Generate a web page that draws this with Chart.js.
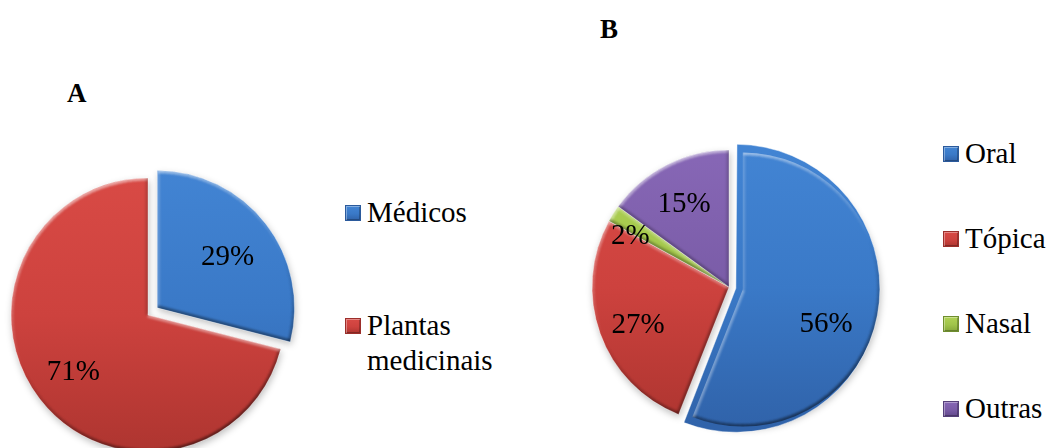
<!DOCTYPE html>
<html>
<head>
<meta charset="utf-8">
<script src="https://cdn.jsdelivr.net/npm/chart.js@4/dist/chart.umd.min.js"></script>
<style>
  html, body { margin: 0; padding: 0; background: #fff; }
  #stage {
    position: relative; width: 1049px; height: 448px; overflow: hidden;
    font-family: "Liberation Serif", "Times New Roman", serif; color: #000;
  }
  #stage canvas { position: absolute; }
  .title { position: absolute; font-weight: bold; font-size: 27px; line-height: 27px; }
  .leg-text { position: absolute; font-size: 29px; line-height: 35px; width: 140px; }
  .leg-swatch { position: absolute; width: 16px; height: 16px; box-sizing: border-box; }
</style>
</head>
<body>
<div id="stage">
  <canvas id="pieA" width="320" height="340" style="left:-12px; top:145px;"></canvas>
  <canvas id="pieB" width="320" height="320" style="left:569px; top:127px;"></canvas>
</div>
<script>
// ---- data ----
const titleA = 'A';
const categoriesA = ['Médicos', 'Plantas medicinais'];
const valuesA = [29, 71];

const titleB = 'B';
const categoriesB = ['Oral', 'Tópica', 'Nasal', 'Outras'];
const valuesB = [56, 27, 2, 15];

// ---- styling ----
const palette = {
  blue:   { top: '#4284d3', mid: '#3a79c7', bottom: '#3063aa', edge: '#2b5a9c' },
  red:    { top: '#d84a45', mid: '#cd423e', bottom: '#ae3530', edge: '#9c2f2b' },
  green:  { top: '#b0d254', mid: '#a0c44a', bottom: '#87a93a', edge: '#6f8e2e' },
  purple: { top: '#8767b6', mid: '#7a5ca7', bottom: '#63498d', edge: '#55407a' }
};
const colorsA = [palette.blue, palette.red];
const colorsB = [palette.blue, palette.red, palette.green, palette.purple];
const RADIUS = 137;

// Vertical gradient across the pie for each slice colour
function sliceFill(colors) {
  return (c) => {
    const col = colors[c.dataIndex];
    const area = c.chart.chartArea;
    if (!area) return col.mid;
    const cy = (area.top + area.bottom) / 2;
    const g = c.chart.ctx.createLinearGradient(0, cy - RADIUS, 0, cy + RADIUS);
    g.addColorStop(0, col.top);
    g.addColorStop(0.5, col.mid);
    g.addColorStop(1, col.bottom);
    return g;
  };
}

// Same translation ArcElement applies for an exploded slice
function arcShift(arc) {
  const p = arc.getProps(['startAngle', 'endAngle', 'circumference'], true);
  const offset = (arc.options.offset || 0) / 4;
  const fix = 1 - Math.sin(Math.min(Math.PI, p.circumference || 0));
  const t = offset + offset * fix;
  const mid = (p.startAngle + p.endAngle) / 2;
  return { dx: Math.cos(mid) * t, dy: Math.sin(mid) * t };
}

function slicePath(ctx, arc) {
  const p = arc.getProps(['x', 'y', 'startAngle', 'endAngle', 'outerRadius'], true);
  const s = arcShift(arc);
  const cx = p.x + s.dx, cy = p.y + s.dy;
  ctx.beginPath();
  ctx.moveTo(cx, cy);
  ctx.arc(cx, cy, p.outerRadius, p.startAngle, p.endAngle);
  ctx.closePath();
  return { cx, cy, r: p.outerRadius, a0: p.startAngle, a1: p.endAngle };
}

// Soft drop shadow beneath the slices and a light/dark bevel on their edges
const bevelPlugin = {
  id: 'bevel',
  beforeDatasetsDraw(chart, args, opts) {
    const ctx = chart.ctx;
    ctx.save();
    ctx.shadowColor = opts.shadowColor;
    ctx.shadowBlur = opts.shadowBlur;
    ctx.shadowOffsetX = 1;
    ctx.shadowOffsetY = 3;
    ctx.fillStyle = '#ffffff';
    chart.getDatasetMeta(0).data.forEach(arc => { slicePath(ctx, arc); ctx.fill(); });
    ctx.restore();
  },
  afterDatasetsDraw(chart, args, opts) {
    const ctx = chart.ctx;
    const L = { x: -0.37, y: -0.93 };
    const shade = (nx, ny) => {
      const d = nx * L.x + ny * L.y;
      return d >= 0 ? `rgba(255,255,255,${(opts.light * d).toFixed(3)})`
                    : `rgba(0,0,0,${(opts.dark * -d).toFixed(3)})`;
    };
    chart.getDatasetMeta(0).data.forEach(arc => {
      ctx.save();
      const g = slicePath(ctx, arc);
      ctx.clip();
      ctx.filter = 'blur(1px)';
      ctx.lineWidth = opts.width;
      ctx.lineCap = 'butt';
      // curved rim
      const step = Math.PI / 90;
      for (let a = g.a0; a < g.a1; a += step) {
        const b = Math.min(a + step, g.a1);
        const m = (a + b) / 2;
        ctx.strokeStyle = shade(Math.cos(m), Math.sin(m));
        ctx.beginPath();
        ctx.arc(g.cx, g.cy, g.r, a, b + 0.004);
        ctx.stroke();
      }
      // straight edges
      const edges = [[g.a0, g.a0 - Math.PI / 2], [g.a1, g.a1 + Math.PI / 2]];
      edges.forEach(([ang, nAng]) => {
        ctx.strokeStyle = shade(Math.cos(nAng), Math.sin(nAng));
        ctx.beginPath();
        ctx.moveTo(g.cx, g.cy);
        ctx.lineTo(g.cx + Math.cos(ang) * g.r, g.cy + Math.sin(ang) * g.r);
        ctx.stroke();
      });
      ctx.restore();
    });
  }
};

// Percentage labels inside the slices
const pieLabelPlugin = {
  id: 'pieLabels',
  afterDatasetsDraw(chart, args, opts) {
    const ctx = chart.ctx;
    const values = chart.data.datasets[0].data;
    ctx.save();
    ctx.font = opts.font;
    ctx.fillStyle = opts.color;
    ctx.textAlign = 'center';
    ctx.textBaseline = 'middle';
    chart.getDatasetMeta(0).data.forEach((arc, i) => {
      const p = arc.getProps(['x', 'y', 'startAngle', 'endAngle', 'outerRadius'], true);
      const s = arcShift(arc);
      const mid = (p.startAngle + p.endAngle) / 2;
      const r = p.outerRadius * opts.radius[i];
      const nudge = opts.nudge[i] || [0, 0];
      ctx.fillText(values[i] + '%',
        p.x + s.dx + Math.cos(mid) * r + nudge[0],
        p.y + s.dy + Math.sin(mid) * r + nudge[1]);
    });
    ctx.restore();
  }
};

function makePie(id, labels, values, colors, offsets, labelOpts) {
  return new Chart(document.getElementById(id), {
    type: 'pie',
    data: {
      labels: labels,
      datasets: [{
        data: values,
        backgroundColor: sliceFill(colors),
        borderColor: 'rgba(255,255,255,0.45)',
        borderWidth: 1,
        offset: offsets,
        radius: RADIUS
      }]
    },
    options: {
      responsive: false,
      animation: false,
      events: [],
      devicePixelRatio: 1,
      radius: RADIUS,
      layout: { padding: 0 },
      plugins: {
        legend: { display: false },
        tooltip: { enabled: false },
        title: { display: false },
        bevel: { width: 5, light: 0.5, dark: 0.45, shadowColor: 'rgba(0,0,0,0.25)', shadowBlur: 7 },
        pieLabels: Object.assign({ font: '29px "Liberation Serif", "Times New Roman", serif', color: '#000' }, labelOpts)
      }
    },
    plugins: [bevelPlugin, pieLabelPlugin]
  });
}

makePie('pieA', categoriesA, valuesA, colorsA, [46.5, 0],
  { radius: [0.63, 0.69], nudge: [[2, 3], [0, -1]] });
makePie('pieB', categoriesB, valuesB, colorsB, [28, 0, 0, 0],
  { radius: [0.62, 0.72, 0.81, 0.69], nudge: [[0, 19], [2, 5], [-5, 9], [-2, 2]] });

// ---- titles and legends ----
const stage = document.getElementById('stage');
function addTitle(text, left, top) {
  const d = document.createElement('div');
  d.className = 'title';
  d.textContent = text;
  d.style.left = left + 'px';
  d.style.top = top + 'px';
  stage.appendChild(d);
}
addTitle(titleA, 67, 80);
addTitle(titleB, 600, 16);

function addLegend(labels, colors, x, firstBaseline, steps) {
  let baseline = firstBaseline;
  labels.forEach((label, i) => {
    const col = colors[i];
    const sw = document.createElement('div');
    sw.className = 'leg-swatch';
    sw.style.left = x + 'px';
    sw.style.top = (baseline - 17) + 'px';
    sw.style.background = `linear-gradient(to bottom, ${col.top}, ${col.mid} 55%, ${col.bottom})`;
    sw.style.border = `1px solid ${col.edge}`;
    sw.style.boxShadow = 'inset 1px 1px 0 rgba(255,255,255,0.35), inset -1px -1px 0 rgba(0,0,0,0.25)';
    stage.appendChild(sw);
    const t = document.createElement('div');
    t.className = 'leg-text';
    t.textContent = label;
    t.style.left = (x + 22) + 'px';
    t.style.top = (baseline - 27) + 'px';
    stage.appendChild(t);
    baseline += steps;
  });
}
addLegend(categoriesA, colorsA, 345, 222, 113);
addLegend(categoriesB, colorsB, 943, 163, 85);
</script>
</body>
</html>
